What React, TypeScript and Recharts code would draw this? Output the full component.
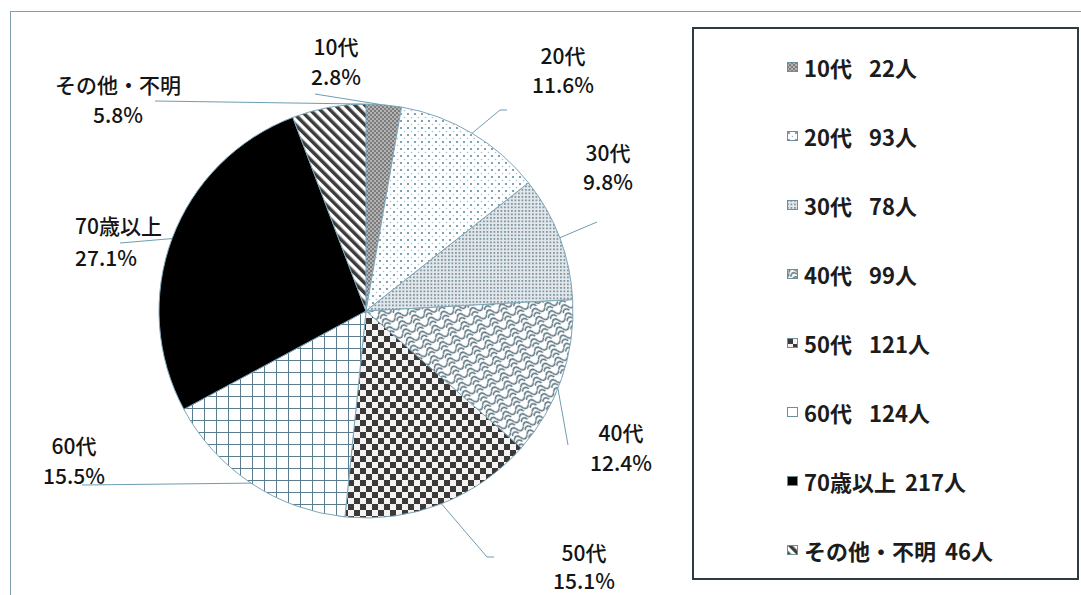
import React from 'react';
import { PieChart, Pie, Cell, Legend } from 'recharts';

// ---- data ----
const CATEGORIES = ['10代', '20代', '30代', '40代', '50代', '60代', '70歳以上', 'その他・不明'];
const COUNTS = [22, 93, 78, 99, 121, 124, 217, 46];
const UNIT = '人';
const PATTERN_IDS = ['p10', 'p20', 'p30', 'p40', 'p50', 'p60', 'p70', 'pOther'];

const TOTAL = COUNTS.reduce((a, b) => a + b, 0);
const data = CATEGORIES.map((name, i) => ({ name, value: COUNTS[i] }));

// ---- layout (label placement relative to pie centre) ----
const CX = 366;
const CY = 311;
const R = 207;
const RAD = Math.PI / 180;
const FONT = "'Noto Sans CJK JP', 'Noto Sans', sans-serif";
const LINE_COLOR = '#6f9db3';

type Lay = { dx: number; dy1: number; dy2: number; anchor?: 'start' | 'middle'; leader: number[][]; arc?: number };
const LABEL_LAYOUT: Lay[] = [
  { dx: -30, dy1: -265, dy2: -235, leader: [[-51, -217]], arc: 4 },
  { dx: 197, dy1: -256, dy2: -227, leader: [[141, -201], [134, -201]] },
  { dx: 242, dy1: -159, dy2: -130, leader: [[231, -89]] },
  { dx: 255, dy1: 121, dy2: 151, leader: [[202, 134]], arc: 112 },
  { dx: 218, dy1: 241, dy2: 269, leader: [[128, 246], [121, 246]] },
  { dx: -292, dy1: 134, dy2: 164, leader: [[-284, 174]] },
  { dx: -291, dy1: -86, dy2: -54, anchor: 'start', leader: [[-246, -68]] },
  { dx: -248, dy1: -227, dy2: -197, leader: [[-211, -210]], arc: 359 },
];

const pct = (v: number) => (Math.round((v * 1000) / TOTAL) / 10).toFixed(1) + '%';

const renderLabel = (props: any) => {
  const { cx, cy, midAngle, outerRadius, index, value } = props;
  const lay = LABEL_LAYOUT[index];
  const ang = lay.arc != null ? 90 - lay.arc : midAngle;
  const ex = cx + outerRadius * Math.cos(-ang * RAD);
  const ey = cy + outerRadius * Math.sin(-ang * RAD);
  const pts = [...lay.leader.map(([dx, dy]) => [cx + dx, cy + dy]), [ex, ey]];
  const anchor = lay.anchor || 'middle';
  return (
    <g key={`lbl-${index}`}>
      <polyline points={pts.map((p) => p.join(',')).join(' ')} fill="none" stroke={LINE_COLOR} strokeWidth={1} />
      <text x={cx + lay.dx} y={cy + lay.dy1} textAnchor={anchor} dominantBaseline="central" fontFamily={FONT} fontSize={21} fontWeight={500} fill="#141414">
        {CATEGORIES[index]}
      </text>
      <text x={cx + lay.dx} y={cy + lay.dy2} textAnchor={anchor} dominantBaseline="central" fontFamily={FONT} fontSize={21} fontWeight={500} fill="#141414">
        {pct(value)}
      </text>
    </g>
  );
};

const Patterns = () => (
  <svg width={0} height={0} style={{ position: 'absolute', left: 0, top: 0 }}>
    <defs>
      <pattern id="p10" width={4} height={4} patternUnits="userSpaceOnUse">
        <rect width={4} height={4} fill="#b4b4b4" />
        <rect width={2} height={2} fill="#7c7c7c" />
        <rect x={2} y={2} width={2} height={2} fill="#7c7c7c" />
      </pattern>
      <pattern id="p20" width={7} height={7} patternUnits="userSpaceOnUse">
        <rect width={7} height={7} fill="#ffffff" />
        <circle cx={2} cy={2} r={1.1} fill="#5f8ca3" />
        <circle cx={5.5} cy={5.5} r={0.8} fill="#a8c0cd" />
      </pattern>
      <pattern id="p30" width={3.5} height={3.5} patternUnits="userSpaceOnUse">
        <rect width={3.5} height={3.5} fill="#e4e8eb" />
        <rect width={1.8} height={1.8} fill="#7f97a5" />
      </pattern>
      <pattern id="p40" width={14} height={9} patternUnits="userSpaceOnUse" patternTransform="rotate(-25)">
        <rect width={14} height={9} fill="#ffffff" />
        <path d="M0 4.5 C2 0.5, 5 0.5, 7 4.5 S12 8.5, 14 4.5" fill="none" stroke="#546e7a" strokeWidth={1.4} />
        <path d="M0 0 C2 -4, 5 -4, 7 0 S12 4, 14 0" fill="none" stroke="#546e7a" strokeWidth={1.4} transform="translate(0,9)" />
      </pattern>
      <pattern id="p50" width={12} height={12} patternUnits="userSpaceOnUse">
        <rect width={12} height={12} fill="#f6f2f1" />
        <rect width={6} height={6} fill="#3a3a3a" />
        <rect x={6} y={6} width={6} height={6} fill="#3a3a3a" />
      </pattern>
      <pattern id="p60" width={12} height={12} patternUnits="userSpaceOnUse">
        <rect width={12} height={12} fill="#ffffff" />
        <path d="M0 0.5 H12 M0.5 0 V12" stroke="#5a7c8c" strokeWidth={1} />
      </pattern>
      <pattern id="p70" width={4} height={4} patternUnits="userSpaceOnUse">
        <rect width={4} height={4} fill="#000000" />
      </pattern>
      <pattern id="pOther" width={7} height={7} patternUnits="userSpaceOnUse" patternTransform="rotate(-45)">
        <rect width={7} height={7} fill="#ffffff" />
        <rect width={3.5} height={7} fill="#3c3c3c" />
      </pattern>
    </defs>
  </svg>
);

const renderLegend = () => (
  <div
    style={{
      position: 'relative',
      width: 387,
      height: 553,
      boxSizing: 'border-box',
      border: '2px solid #2f3b41',
      background: '#ffffff',
      fontFamily: FONT,
    }}
  >
    {CATEGORIES.map((name, i) => (
      <div
        key={name}
        style={{
          position: 'absolute',
          left: 93,
          top: 38 + 69 * i - 16,
          height: 32,
          lineHeight: '32px',
          display: 'flex',
          alignItems: 'center',
          fontSize: 22,
          fontWeight: 700,
          color: '#1c1c1c',
          whiteSpace: 'nowrap',
        }}
      >
        <svg width={11} height={10} style={{ marginRight: 6 }}>
          <rect x={0.5} y={0.5} width={10} height={9} fill={`url(#${PATTERN_IDS[i]})`} stroke="#6f8e9c" strokeWidth={1} />
        </svg>
        <span>{name}</span>
        <span style={{ marginLeft: name.length <= 3 ? 17 : 9 }}>
          {COUNTS[i]}
          {UNIT}
        </span>
      </div>
    ))}
  </div>
);

export default function App() {
  return (
    <div style={{ position: 'absolute', left: 0, top: 0, width: 1081, height: 595, overflow: 'hidden', background: '#ffffff' }}>
      <Patterns />
      <div style={{ position: 'absolute', left: 10, top: 11, width: 1100, height: 640, border: '1px solid #7f9fb1' }} />
      <div style={{ position: 'absolute', left: 0, top: 0 }}>
        <PieChart width={1081} height={595} margin={{ top: 0, right: 0, bottom: 0, left: 0 }}>
          <Pie
            data={data}
            dataKey="value"
            nameKey="name"
            cx={CX}
            cy={CY}
            outerRadius={R}
            startAngle={90}
            endAngle={-270}
            stroke="#7fa6b9"
            strokeWidth={1}
            label={renderLabel}
            labelLine={false}
            isAnimationActive={false}
          >
            {data.map((d, i) => (
              <Cell key={d.name} fill={`url(#${PATTERN_IDS[i]})`} />
            ))}
          </Pie>
          <Legend
            content={renderLegend}
            layout="vertical"
            align="right"
            verticalAlign="top"
            wrapperStyle={{ position: 'absolute', left: 692, top: 27, width: 387, height: 553, margin: 0, padding: 0 }}
          />
        </PieChart>
      </div>
    </div>
  );
}
